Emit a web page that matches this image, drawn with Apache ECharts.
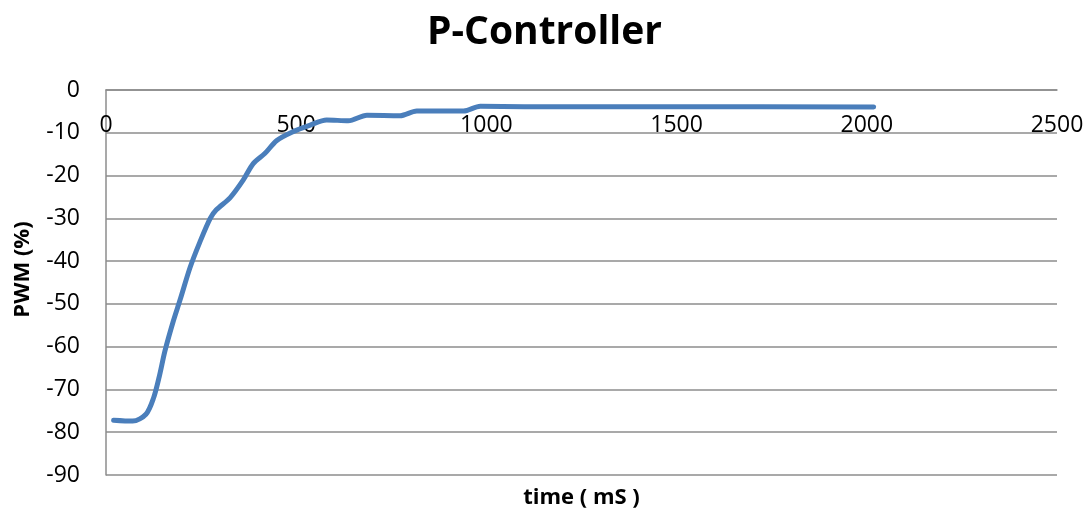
<!DOCTYPE html>
<html>
<head>
<meta charset="utf-8">
<title>P-Controller</title>
<script src="https://cdn.jsdelivr.net/npm/echarts@6/dist/echarts.min.js"></script>
<style>
  html, body { margin: 0; padding: 0; background: #fff; }
  #chart { width: 1089px; height: 510px; }
</style>
</head>
<body>
<div id="chart"></div>
<script>
// Step response of the P-controller: PWM duty (%) over time (ms)
const timeMs = [20, 70, 105, 125, 140, 155, 177, 195, 221, 247, 274, 290, 326, 361, 387, 418, 449, 490, 537, 580, 637, 686, 773, 817, 940, 984, 1100, 1500, 2018];
const pwmPercent = [-77.2, -77.4, -75.8, -72, -67, -61, -54, -49, -41.5, -35.5, -30, -28, -25.2, -21, -17.2, -14.8, -11.8, -9.8, -8.2, -7.0, -7.2, -5.9, -6.0, -4.9, -4.9, -3.8, -3.9, -3.9, -4.0];

const xTicks = { min: 0, max: 2500, step: 500 };
const yTicks = { min: -90, max: 0, step: 10 };

const FONT = '"Open Sans", Lato, sans-serif';
const GRID_GREY = '#8c8c8c';

const chart = echarts.init(document.getElementById('chart'), null, { renderer: 'canvas' });

chart.setOption({
  animation: false,
  backgroundColor: '#ffffff',
  title: {
    text: 'P-Controller',
    left: 'center',
    top: 8,
    textStyle: { fontFamily: FONT, fontSize: 39, fontWeight: 'bold', color: '#000' }
  },
  grid: { left: 106, right: 32, top: 90, bottom: 35, containLabel: false, outerBoundsMode: 'none' },
  xAxis: [{
    // value axis drawn along the y = 0 line with its labels hanging below it
    type: 'value',
    min: xTicks.min,
    max: xTicks.max,
    interval: xTicks.step,
    position: 'top',
    axisLine: { show: true, onZero: false, lineStyle: { color: GRID_GREY, width: 1.5 } },
    axisTick: { show: false },
    splitLine: { show: false },
    axisLabel: { inside: true, fontFamily: FONT, fontSize: 23, color: '#000', margin: 24, formatter: v => String(v) }
  }, {
    // carries only the axis title under the plot
    type: 'value',
    min: xTicks.min,
    max: xTicks.max,
    interval: xTicks.step,
    position: 'bottom',
    axisLine: { show: false },
    axisTick: { show: false },
    axisLabel: { show: false },
    splitLine: { show: false },
    name: 'time ( mS )',
    nameLocation: 'middle',
    nameGap: 12,
    nameTextStyle: { fontFamily: FONT, fontSize: 22, fontWeight: 'bold', color: '#000' }
  }],
  yAxis: {
    type: 'value',
    min: yTicks.min,
    max: yTicks.max,
    interval: yTicks.step,
    axisLine: { show: true, lineStyle: { color: GRID_GREY, width: 1.5 } },
    axisTick: { show: false },
    splitLine: { show: true, lineStyle: { color: GRID_GREY, width: 1.5 } },
    axisLabel: { fontFamily: FONT, fontSize: 23, color: '#000', margin: 26, formatter: v => String(v) },
    name: 'PWM (%)',
    nameLocation: 'middle',
    nameRotate: 90,
    nameGap: 72,
    nameTextStyle: { fontFamily: FONT, fontSize: 22, fontWeight: 'bold', color: '#000', padding: [0, 0, 0, 26] }
  },
  series: [{
    type: 'line',
    xAxisIndex: 0,
    data: timeMs.map((t, i) => [t, pwmPercent[i]]),
    smooth: 0.3,
    showSymbol: false,
    lineStyle: { color: '#4a7ebb', width: 5, cap: 'round', join: 'round' },
    itemStyle: { color: '#4a7ebb' }
  }]
});
</script>
</body>
</html>
